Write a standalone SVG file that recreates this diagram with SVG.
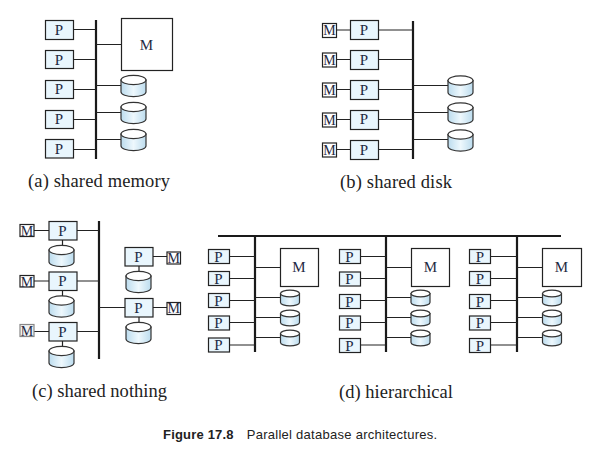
<svg xmlns="http://www.w3.org/2000/svg" xmlns:xlink="http://www.w3.org/1999/xlink" width="598" height="452" viewBox="0 0 598 452">
<style>
.p{fill:#e9f6fd;stroke:#222;stroke-width:1.2}
.m{fill:#fff;stroke:#222;stroke-width:1.2}
.t{font-family:"Liberation Serif",serif;font-size:15px;fill:#1f2a44;text-anchor:middle}
.s{font-size:14px}
.c{font-family:"Liberation Serif",serif;font-size:18.500px;fill:#222}
.l{stroke:#222;stroke-width:1.2;fill:none}
.b{stroke:#1a1a1a;stroke-width:2.2;fill:none}
.cb{fill:url(#g);stroke:#333;stroke-width:1.2}
.ct{fill:#fff;stroke:#333;stroke-width:1.2}
.cap{font-family:"Liberation Sans",sans-serif;font-size:13px;fill:#222}
</style>
<defs>
<linearGradient id="g" x1="0" x2="1" y1="0" y2="0"><stop offset="0" stop-color="#bcdcee"/><stop offset=".5" stop-color="#eef8fd"/><stop offset="1" stop-color="#bcdcee"/></linearGradient>
<g id="cyl"><path class="cb" d="M0,5V17A12.5,4.6 0 0 0 25,17V5Z"/><ellipse class="ct" cx="12.5" cy="5" rx="12.5" ry="4.6"/></g>
<g id="cys"><path class="cb" d="M0,4V13A9.5,3.4 0 0 0 19,13V4Z"/><ellipse class="ct" cx="9.5" cy="4" rx="9.5" ry="3.4"/></g>
</defs>
<g id="connectors">
<path class="b" d="M96,20V159M413,21V159M99,221V359M255,236V352M386,236V352M517,236V352M218,236H561"/>
<path class="l" d="M73,29.5H96M73,59.5H96M73,89.5H96M73,119.5H96M73,149.5H96M96,44.5H121M96,85.5H121M96,112.5H121M96,139.5H121"/>
<path class="l" d="M336,30H350M336,59.5H350M336,89.5H350M336,119.5H350M336,149.5H350M378,30H413M378,59.5H413M378,89.5H413M378,119.5H413M378,149.5H413M413,85.5H448M413,112.5H448M413,139.5H448"/>
<path class="l" d="M34,230.5H49M76,230.5H99M34,281H49M76,281H99M34,331.5H49M76,331.5H99M62.500,240V245M62.500,290V296M62.500,341V346M153,256.500H167M153,307.500H167M99,307.500H125M139,266V271M139,317V322"/>
<path class="l" d="M229,256.500H255M229,278.500H255M229,300.500H255M229,322.500H255M229,345H255M255,267.500H280M255,297.500H280M255,317.500H280M255,337.500H280"/>
<path class="l" d="M360,256.500H386M360,278.500H386M360,300.500H386M360,322.500H386M360,345H386M386,267.500H411M386,297.500H411M386,317.500H411M386,337.500H411"/>
<path class="l" d="M491,256.500H517M491,278.500H517M491,300.500H517M491,322.500H517M491,345H517M517,267.500H542M517,297.500H542M517,317.500H542M517,337.500H542"/>
</g>
<g id="a-p1"><rect class="p" x="45.500" y="20.500" width="28" height="19"/><text class="t" x="59" y="34.500">P</text></g>
<g id="a-p2"><rect class="p" x="45.500" y="50.500" width="28" height="18"/><text class="t" x="59" y="64.500">P</text></g>
<g id="a-p3"><rect class="p" x="45.500" y="80.500" width="28" height="18"/><text class="t" x="59" y="94">P</text></g>
<g id="a-p4"><rect class="p" x="45.500" y="110.500" width="28" height="18"/><text class="t" x="59" y="123.500">P</text></g>
<g id="a-p5"><rect class="p" x="45.500" y="139.500" width="28" height="18.500"/><text class="t" x="59" y="153.500">P</text></g>
<g id="a-m"><rect class="m" x="121.500" y="18.500" width="51" height="52"/><text class="t" x="146.500" y="49.500">M</text></g>
<g id="a-d1"><use xlink:href="#cyl" href="#cyl" x="121" y="75"/></g>
<g id="a-d2"><use xlink:href="#cyl" href="#cyl" x="121" y="102"/></g>
<g id="a-d3"><use xlink:href="#cyl" href="#cyl" x="121" y="129"/></g>
<text class="c" x="28" y="187" textLength="142">(a) shared memory</text>

<g id="b-m1"><rect class="m" x="322.500" y="23.500" width="14" height="14"/><text class="t s" x="329.500" y="35">M</text></g>
<g id="b-m2"><rect class="m" x="322.500" y="53" width="14" height="14"/><text class="t s" x="329.500" y="64.500">M</text></g>
<g id="b-m3"><rect class="m" x="322.500" y="83" width="14" height="14"/><text class="t s" x="329.500" y="94.500">M</text></g>
<g id="b-m4"><rect class="m" x="322.500" y="113" width="14" height="14"/><text class="t s" x="329.500" y="124.500">M</text></g>
<g id="b-m5"><rect class="m" x="322.500" y="143" width="14" height="14"/><text class="t s" x="329.500" y="154.500">M</text></g>
<g id="b-p1"><rect class="p" x="350.500" y="20.500" width="28" height="19"/><text class="t" x="364" y="34.500">P</text></g>
<g id="b-p2"><rect class="p" x="350.500" y="50.500" width="28" height="19"/><text class="t" x="364" y="64.500">P</text></g>
<g id="b-p3"><rect class="p" x="350.500" y="80.500" width="28" height="19"/><text class="t" x="364" y="94.500">P</text></g>
<g id="b-p4"><rect class="p" x="350.500" y="110.500" width="28" height="19"/><text class="t" x="364" y="123.500">P</text></g>
<g id="b-p5"><rect class="p" x="350.500" y="140.500" width="28" height="19"/><text class="t" x="364" y="154.500">P</text></g>
<g id="b-d1"><use xlink:href="#cyl" href="#cyl" x="448" y="75.500"/></g>
<g id="b-d2"><use xlink:href="#cyl" href="#cyl" x="448" y="102.500"/></g>
<g id="b-d3"><use xlink:href="#cyl" href="#cyl" x="448" y="129.500"/></g>
<text class="c" x="340" y="188" textLength="112">(b) shared disk</text>

<g id="c-m1"><rect class="m" x="20" y="224.500" width="14" height="12"/><text class="t s" x="27" y="235.500">M</text></g>
<g id="c-m2"><rect class="m" x="20" y="275.500" width="14" height="11.500"/><text class="t s" x="27" y="286.500">M</text></g>
<g id="c-m3"><rect class="m" style="stroke:#888;fill:#f2f2f2" x="20" y="324.500" width="14" height="12"/><text class="t s" x="27" y="336">M</text></g>
<g id="c-p1"><rect class="p" x="49" y="221.500" width="28" height="18.500"/><text class="t" x="62.500" y="235.500">P</text></g>
<g id="c-p2"><rect class="p" x="49" y="272" width="28" height="18.500"/><text class="t" x="62.500" y="286">P</text></g>
<g id="c-p3"><rect class="p" x="49" y="322.500" width="28" height="18.500"/><text class="t" x="62.500" y="336.500">P</text></g>
<g id="c-d1"><use xlink:href="#cyl" href="#cyl" x="49" y="245"/></g>
<g id="c-d2"><use xlink:href="#cyl" href="#cyl" x="49" y="295.500"/></g>
<g id="c-d3"><use xlink:href="#cyl" href="#cyl" x="49" y="346"/></g>
<g id="c-p4"><rect class="p" x="125" y="247.500" width="28" height="18.500"/><text class="t" x="138.500" y="261.500">P</text></g>
<g id="c-p5"><rect class="p" x="125" y="298.500" width="28" height="18.500"/><text class="t" x="138.500" y="312.500">P</text></g>
<g id="c-m4"><rect class="m" x="167" y="252" width="13.500" height="12"/><text class="t s" x="173.700" y="262.500">M</text></g>
<g id="c-m5"><rect class="m" x="167" y="302.500" width="13.500" height="12"/><text class="t s" x="173.700" y="313">M</text></g>
<g id="c-d4"><use xlink:href="#cyl" href="#cyl" x="126" y="271"/></g>
<g id="c-d5"><use xlink:href="#cyl" href="#cyl" x="126" y="322"/></g>
<text class="c" x="32" y="397" textLength="135">(c) shared nothing</text>

<g id="d1-p1"><rect class="p" x="208.500" y="249.500" width="21" height="14"/><text class="t" x="218.500" y="261.500">P</text></g>
<g id="d1-p2"><rect class="p" x="208.500" y="271.500" width="21" height="14"/><text class="t" x="218.500" y="283.500">P</text></g>
<g id="d1-p3"><rect class="p" x="208.500" y="293.500" width="21" height="14"/><text class="t" x="218.500" y="305.500">P</text></g>
<g id="d1-p4"><rect class="p" x="208.500" y="316" width="21" height="14"/><text class="t" x="218.500" y="328">P</text></g>
<g id="d1-p5"><rect class="p" x="208.500" y="338" width="21" height="14"/><text class="t" x="218.500" y="350">P</text></g>
<g id="d1-m"><rect class="m" x="280.500" y="248.500" width="38" height="38"/><text class="t" x="299" y="272">M</text></g>
<g id="d1-d1"><use xlink:href="#cys" href="#cys" x="280.500" y="289.500"/></g>
<g id="d1-d2"><use xlink:href="#cys" href="#cys" x="280.500" y="309.500"/></g>
<g id="d1-d3"><use xlink:href="#cys" href="#cys" x="280.500" y="329.500"/></g>

<g id="d2-p1"><rect class="p" x="339.500" y="249.500" width="21" height="14"/><text class="t" x="349.500" y="261.500">P</text></g>
<g id="d2-p2"><rect class="p" x="339.500" y="272" width="21" height="14"/><text class="t" x="349.500" y="284">P</text></g>
<g id="d2-p3"><rect class="p" x="339.500" y="294.500" width="21" height="14"/><text class="t" x="349.500" y="306.500">P</text></g>
<g id="d2-p4"><rect class="p" x="339.500" y="316" width="21" height="14"/><text class="t" x="349.500" y="328">P</text></g>
<g id="d2-p5"><rect class="p" x="339.500" y="338.500" width="21" height="14"/><text class="t" x="349.500" y="350.500">P</text></g>
<g id="d2-m"><rect class="m" x="411.500" y="248.500" width="38" height="38"/><text class="t" x="430.500" y="272">M</text></g>
<g id="d2-d1"><use xlink:href="#cys" href="#cys" x="411" y="289.500"/></g>
<g id="d2-d2"><use xlink:href="#cys" href="#cys" x="411" y="309.500"/></g>
<g id="d2-d3"><use xlink:href="#cys" href="#cys" x="411" y="329.500"/></g>

<g id="d3-p1"><rect class="p" x="469.500" y="249.500" width="21" height="14"/><text class="t" x="480" y="261.500">P</text></g>
<g id="d3-p2"><rect class="p" x="469.500" y="271.500" width="21" height="14"/><text class="t" x="480" y="283.500">P</text></g>
<g id="d3-p3"><rect class="p" x="469.500" y="294.500" width="21" height="14"/><text class="t" x="480" y="306.500">P</text></g>
<g id="d3-p4"><rect class="p" x="469.500" y="316" width="21" height="14"/><text class="t" x="480" y="328">P</text></g>
<g id="d3-p5"><rect class="p" x="469.500" y="338.500" width="21" height="14"/><text class="t" x="480" y="350.500">P</text></g>
<g id="d3-m"><rect class="m" x="542.500" y="248.500" width="39" height="38"/><text class="t" x="561.500" y="272">M</text></g>
<g id="d3-d1"><use xlink:href="#cys" href="#cys" x="542.500" y="289.500"/></g>
<g id="d3-d2"><use xlink:href="#cys" href="#cys" x="542.500" y="309.500"/></g>
<g id="d3-d3"><use xlink:href="#cys" href="#cys" x="542.500" y="329.500"/></g>
<text class="c" x="339" y="398" textLength="114">(d) hierarchical</text>

<text class="cap" x="163" y="439" font-weight="bold" textLength="70.500">Figure 17.8</text>
<text class="cap" x="246.700" y="439" textLength="190.500">Parallel database architectures.</text>
</svg>
